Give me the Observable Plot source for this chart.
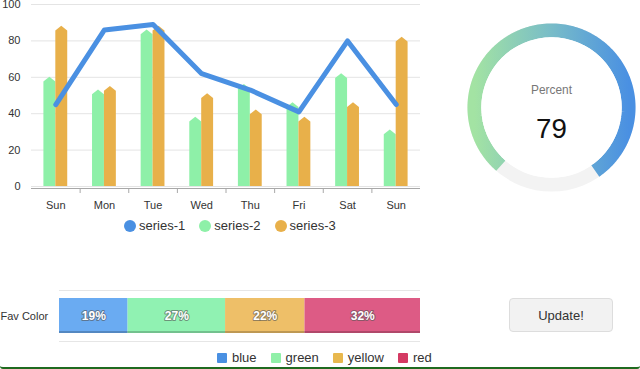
<!DOCTYPE html>
<html><head><meta charset="utf-8">
<script src="https://cdn.jsdelivr.net/npm/d3@7"></script>
<script src="https://cdn.jsdelivr.net/npm/@observablehq/plot@0.6"></script>
<style>
body{margin:0;width:640px;height:369px;position:relative;overflow:hidden;background:#fff;font-family:"Helvetica Neue",Helvetica,Arial,"Liberation Sans",sans-serif;color:#333}
.abs{position:absolute}
.legend{display:flex;align-items:center;font-size:13px;color:#333;white-space:nowrap}
.legend .item{display:flex;align-items:center}
.dotsw{width:12px;height:12px;border-radius:50%;margin-right:3px}
.sqsw{width:10px;height:10px;border-radius:1px;margin-right:5px}
#btn{left:509px;top:298px;width:104px;height:34px;box-sizing:border-box;border:1px solid #ddd;border-radius:4px;background:#f2f2f2;font-size:13px;color:#333;display:flex;align-items:center;justify-content:center}
#bottomline{left:0;top:366px;width:640px;height:3px;box-sizing:border-box;border-bottom:2px solid #1f6a1f;border-radius:0 0 3px 3px}
</style></head><body>
<div id="main" class="abs" style="left:0;top:0"></div>
<div id="legend1" class="abs legend" style="left:124px;top:218px"></div>
<div id="gauge" class="abs" style="left:462px;top:18px"></div>
<div id="fav" class="abs" style="left:0;top:285px"></div>
<div id="legend2" class="abs legend" style="left:217px;top:350px"></div>
<div id="btn" class="abs">Update!</div>
<div id="bottomline" class="abs"></div>
<script>
const days = ["Sun","Mon","Tue","Wed","Thu","Fri","Sat","Sun"];
const series1 = [45,86,89,62,53,41,80,45];
const series2 = [60,53,86,38,56,46,62,31];
const series3 = [88,55,88,51,42,38,46,82];
const seriesNames = ["series-1","series-2","series-3"];
const seriesColors = ["#4a90e2","#8ef0a8","#e8b04a"];
const yTicks = [0,20,40,60,80,100];

const gaugeLabel = "Percent";
const gaugeValue = 79;

const favLabel = "Fav Color";
const favCategories = ["blue","green","yellow","red"];
const favShares = [19,27,22,32];
const favBarColors = ["#6aabf2","#90f2b2","#eebf68","#dd5b85"];
const favLegendColors = ["#4a90e2","#90f0a8","#e8b84e","#d43a63"];
const buttonLabel = "Update!";

const FONT = "'Helvetica Neue',Helvetica,Arial,'Liberation Sans',sans-serif";

// ---------- main chart ----------
const idx = d3.range(days.length);
const halfW = 0.245, tip = 2.6;
function barPoly(vals, side) {
  const rows = [];
  vals.forEach((v, i) => {
    const a = side < 0 ? i - halfW : i, b = side < 0 ? i : i + halfW;
    rows.push({bar: i, x: a, y: v - tip});
    rows.push({bar: i, x: (a + b) / 2, y: v});
    rows.push({bar: i, x: b, y: v - tip});
  });
  return rows;
}
const main = Plot.plot({
  width: 430, height: 215,
  marginLeft: 31, marginRight: 10, marginTop: 4, marginBottom: 27,
  insetBottom: 2,
  style: {fontSize: "11px", fontFamily: FONT, color: "#333", background: "transparent", overflow: "visible"},
  x: {domain: [-0.5, days.length - 0.5], axis: null},
  y: {domain: [0, 100], axis: null},
  marks: [
    Plot.gridY(yTicks, {stroke: "#e4e4e4", strokeOpacity: 1}),
    Plot.axisY(yTicks, {tickSize: 0, tickPadding: 11, label: null, fill: "#333"}),
    Plot.ruleY([0], {dy: 2, stroke: "#a8a8a8"}),
    Plot.axisX(d3.range(0.5, days.length - 1, 1), {tickSize: 5, tickFormat: () => "", stroke: "#a8a8a8", label: null}),
    Plot.axisX(idx, {tickSize: 0, tickPadding: 13, tickFormat: i => days[i], label: null, fill: "#333"}),
    Plot.areaY(barPoly(series2, -1), {x: "x", y1: 0, y2: "y", z: "bar", fill: seriesColors[1]}),
    Plot.areaY(barPoly(series3, 1), {x: "x", y1: 0, y2: "y", z: "bar", fill: seriesColors[2]}),
    Plot.line(idx, {x: i => i, y: i => series1[i], stroke: seriesColors[0], strokeWidth: 5, strokeLinejoin: "round"})
  ]
});
document.getElementById("main").appendChild(main);

const lg1 = document.getElementById("legend1");
seriesNames.forEach((n, i) => {
  const it = document.createElement("div");
  it.className = "item";
  it.style.marginRight = i < seriesNames.length - 1 ? "14px" : "0";
  it.innerHTML = `<span class="dotsw" style="background:${seriesColors[i]}"></span><span>${n}</span>`;
  lg1.appendChild(it);
});

// ---------- gauge ----------
const start = -139 * Math.PI / 180;
const span = gaugeValue / 100 * 2 * Math.PI;
const arcPts = d3.range(0, 181).map(k => {
  const a = start + span * k / 180;
  return {x: 78 * Math.sin(a), y: -78 * Math.cos(a)};
});
const gauge = Plot.plot({
  width: 180, height: 180, margin: 0,
  style: {background: "transparent", overflow: "visible", fontFamily: FONT},
  x: {domain: [-90, 90], range: [0, 180], axis: null},
  y: {domain: [-90, 90], range: [0, 180], axis: null},
  marks: [
    Plot.dot([{x: 0, y: 0}], {x: "x", y: "y", r: 78, stroke: "#f3f3f3", strokeWidth: 14, fill: "none", ariaLabel: "ring"}),
    Plot.line(arcPts, {x: "x", y: "y", stroke: "url(#gaugeGrad)", strokeWidth: 14, strokeLinecap: "butt", curve: "linear"}),
    Plot.dot([{x: 0, y: 0}], {x: "x", y: "y", r: 71, fill: "#fff", stroke: "none", ariaLabel: "inner"}),
    Plot.text([gaugeLabel], {x: 0, y: -18, fontSize: 12, fill: "#777"}),
    Plot.text([String(gaugeValue)], {x: 0, y: 22, fontSize: 28, fill: "#111"})
  ]
});
d3.select(gauge).insert("defs", ":first-child").html(
  `<linearGradient id="gaugeGrad" x1="0" x2="1" y1="0" y2="0">
     <stop offset="0" stop-color="#a3e3a3"/>
     <stop offset="0.5" stop-color="#78bcc8"/>
     <stop offset="1" stop-color="#4a90e2"/>
   </linearGradient>`);
d3.select(gauge).select('g[aria-label="inner"]').style("filter", "drop-shadow(0 1px 3px rgba(0,0,0,0.45))");
d3.select(gauge).select('g[aria-label="ring"]').style("filter", "drop-shadow(0 1px 3px rgba(0,0,0,0.22))");
document.getElementById("gauge").appendChild(gauge);

// ---------- fav color stacked bar ----------
const cum = d3.cumsum(favShares);
const favRows = favCategories.map((c, i) => ({name: c, color: favBarColors[i], share: favShares[i], x1: cum[i] - favShares[i], x2: cum[i]}));
const fav = Plot.plot({
  width: 430, height: 62,
  marginLeft: 59, marginRight: 10, marginTop: 5, marginBottom: 6,
  style: {background: "transparent", overflow: "visible", fontFamily: FONT},
  x: {domain: [0, 100], axis: null},
  y: {domain: [0, 1], axis: null},
  marks: [
    Plot.ruleY([0, 1], {stroke: "#e6e6e6"}),
    Plot.barX(favRows, {x1: "x1", x2: "x2", fill: d => d.color, insetTop: 8, insetBottom: 8}),
    Plot.barX(favRows, {x1: "x1", x2: "x2", fill: "#000", fillOpacity: 0.2, insetTop: 41, insetBottom: 8}),
    Plot.text(favRows, {x: d => (d.x1 + d.x2) / 2, text: d => d.share + "%", fill: "#fff", fontSize: 12, fontWeight: "bold", stroke: "#555", strokeWidth: 2, strokeOpacity: 0.6, paintOrder: "stroke"}),
    Plot.text([favLabel], {frameAnchor: "left", dx: -59, textAnchor: "start", fontSize: 11, fill: "#333"})
  ]
});
document.getElementById("fav").appendChild(fav);

const lg2 = document.getElementById("legend2");
favCategories.forEach((n, i) => {
  const it = document.createElement("div");
  it.className = "item";
  it.style.marginRight = i < favCategories.length - 1 ? "14px" : "0";
  it.innerHTML = `<span class="sqsw" style="background:${favLegendColors[i]}"></span><span>${n}</span>`;
  lg2.appendChild(it);
});
document.getElementById("btn").textContent = buttonLabel;
</script>
</body></html>
